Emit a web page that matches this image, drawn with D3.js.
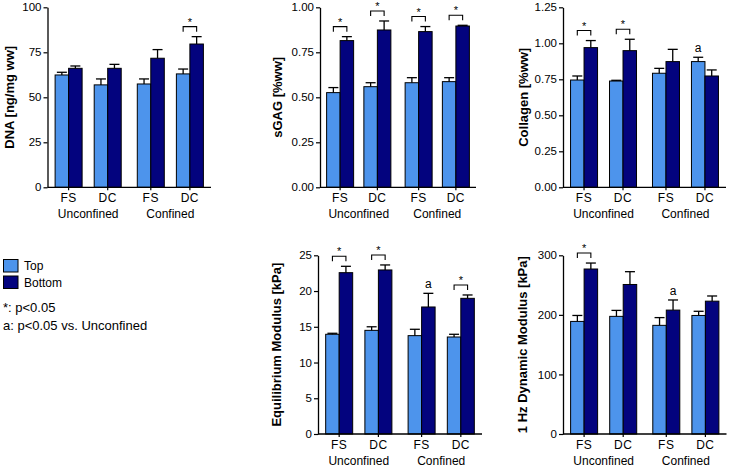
<!DOCTYPE html>
<html><head><meta charset="utf-8">
<script src="https://cdn.jsdelivr.net/npm/d3@7"></script>
<style>body{margin:0;background:#fff}svg{display:block;font-family:Arial,"Liberation Sans",sans-serif}</style>
</head><body><svg id="c" width="735" height="468"></svg>
<script>
// ---------------- data ----------------
const conditions = ["FS", "DC", "FS", "DC"];
const groups = ["Unconfined", "Unconfined", "Confined", "Confined"];
const groupNames = ["Unconfined", "Confined"];
const seriesNames = ["Top", "Bottom"];

const dnaTop = [62.4, 56.9, 57.4, 63.0];
const dnaTopErr = [1.5, 3.3, 2.8, 2.7];
const dnaBottom = [66.1, 66.1, 71.7, 79.6];
const dnaBottomErr = [1.3, 2.2, 4.8, 4.1];
const dnaStar = [false, false, false, true];
const dnaA = [null, null, null, null];
const dnaTicks = [0, 25, 50, 75, 100];

const sgagTop = [0.526, 0.559, 0.581, 0.587];
const sgagTopErr = [0.028, 0.022, 0.028, 0.022];
const sgagBottom = [0.815, 0.874, 0.865, 0.896];
const sgagBottomErr = [0.022, 0.050, 0.028, 0.004];
const sgagStar = [true, true, true, true];
const sgagA = [null, null, null, null];
const sgagTicks = [0, 0.25, 0.5, 0.75, 1.0];

const colTop = [0.745, 0.738, 0.792, 0.873];
const colTopErr = [0.028, 0.005, 0.034, 0.030];
const colBottom = [0.970, 0.949, 0.873, 0.773];
const colBottomErr = [0.049, 0.079, 0.085, 0.042];
const colStar = [true, true, false, false];
const colA = [null, null, null, "Top"];
const colTicks = [0, 0.25, 0.5, 0.75, 1.0, 1.25];

const eqTop = [13.95, 14.5, 13.76, 13.57];
const eqTopErr = [0.14, 0.5, 0.89, 0.38];
const eqBottom = [22.57, 22.95, 17.77, 18.98];
const eqBottomErr = [0.89, 0.7, 1.91, 0.47];
const eqStar = [true, true, false, true];
const eqA = [null, null, "Bottom", null];
const eqTicks = [0, 5, 10, 15, 20, 25];

const dynTop = [189, 197.5, 182.4, 199];
const dynTopErr = [10, 10, 13, 7];
const dynBottom = [277, 251, 208, 223];
const dynBottomErr = [10, 21.5, 17, 8.7];
const dynStar = [true, false, false, false];
const dynA = [null, null, "Bottom", null];
const dynTicks = [0, 100, 200, 300];

const yLabels = ["DNA [ng/mg ww]", "sGAG [%ww]", "Collagen [%ww]", "Equilibrium Modulus [kPa]", "1 Hz Dynamic Modulus [kPa]"];
const footnotes = ["*: p<0.05", "a: p<0.05 vs. Unconfined"];

// ---------------- style / layout ----------------
const colors = {Top: "#4d94ec", Bottom: "#03037e"};
const svg = d3.select("#c");

const panels = [
  {label: yLabels[0], top: dnaTop, topErr: dnaTopErr, bot: dnaBottom, botErr: dnaBottomErr, star: dnaStar, a: dnaA, ticks: dnaTicks, fmt: d3.format("d"),
   x0: 47.5, x1: 211, y0: 187.3, y1: 7.3, labelX: 9},
  {label: yLabels[1], top: sgagTop, topErr: sgagTopErr, bot: sgagBottom, botErr: sgagBottomErr, star: sgagStar, a: sgagA, ticks: sgagTicks, fmt: d3.format(".2f"),
   x0: 320, x1: 476, y0: 187.3, y1: 7.3, labelX: 277.5},
  {label: yLabels[2], top: colTop, topErr: colTopErr, bot: colBottom, botErr: colBottomErr, star: colStar, a: colA, ticks: colTicks, fmt: d3.format(".2f"),
   x0: 563, x1: 726, y0: 187.3, y1: 7.3, labelX: 523.5},
  {label: yLabels[3], top: eqTop, topErr: eqTopErr, bot: eqBottom, botErr: eqBottomErr, star: eqStar, a: eqA, ticks: eqTicks, fmt: d3.format("d"),
   x0: 318, x1: 482, y0: 434, y1: 255.3, labelX: 276},
  {label: yLabels[4], top: dynTop, topErr: dynTopErr, bot: dynBottom, botErr: dynBottomErr, star: dynStar, a: dynA, ticks: dynTicks, fmt: d3.format("d"),
   x0: 563, x1: 726.5, y0: 434, y1: 255.3, labelX: 522}
];

const barW = 13.5, capW = 10, groupGap = 4;

panels.forEach(p => {
  const g = svg.append("g");
  const yMax = p.ticks[p.ticks.length - 1];
  const y = d3.scaleLinear().domain([0, yMax]).range([p.y0, p.y1]);
  const idx = d3.range(conditions.length);
  const xb = d3.scaleBand().domain(idx).range([0, p.x1 - p.x0 - groupGap]).paddingInner(0).paddingOuter(0.04);
  const cx = i => p.x0 + xb(i) + xb.bandwidth() / 2 + (groups[i] === groupNames[1] ? groupGap : 0);
  const sub = d3.scaleBand().domain(seriesNames).range([-barW, barW]);

  const rows = [];
  idx.forEach(i => {
    rows.push({i, s: "Top", v: p.top[i], e: p.topErr[i]});
    rows.push({i, s: "Bottom", v: p.bot[i], e: p.botErr[i]});
  });

  // bars
  g.selectAll("rect.bar").data(rows).join("rect")
    .attr("x", d => cx(d.i) + sub(d.s))
    .attr("y", d => y(d.v))
    .attr("width", sub.bandwidth())
    .attr("height", d => y(0) - y(d.v))
    .attr("fill", d => colors[d.s])
    .attr("stroke", "#000").attr("stroke-width", 1);

  // error bars (upper only)
  const eb = g.selectAll("g.err").data(rows).join("g");
  eb.append("line")
    .attr("x1", d => cx(d.i) + sub(d.s) + sub.bandwidth() / 2)
    .attr("x2", d => cx(d.i) + sub(d.s) + sub.bandwidth() / 2)
    .attr("y1", d => y(d.v)).attr("y2", d => y(d.v + d.e))
    .attr("stroke", "#000").attr("stroke-width", 1.3);
  eb.append("line")
    .attr("x1", d => cx(d.i) + sub(d.s) + sub.bandwidth() / 2 - capW / 2)
    .attr("x2", d => cx(d.i) + sub(d.s) + sub.bandwidth() / 2 + capW / 2)
    .attr("y1", d => y(d.v + d.e)).attr("y2", d => y(d.v + d.e))
    .attr("stroke", "#000").attr("stroke-width", 1.3);

  // y axis
  const ax = g.append("g").attr("transform", `translate(${p.x0},0)`)
    .call(d3.axisLeft(y).tickValues(p.ticks).tickFormat(p.fmt).tickSize(4).tickSizeOuter(0).tickPadding(2));
  ax.select(".domain").attr("stroke", "#000").attr("stroke-width", 1.3);
  ax.selectAll(".tick line").attr("stroke", "#000").attr("stroke-width", 1.2);
  ax.selectAll(".tick text").attr("font-size", 11.5).attr("font-family", "Arial, 'Liberation Sans', sans-serif").attr("fill", "#000");

  // x axis
  g.append("line").attr("x1", p.x0).attr("x2", p.x1).attr("y1", y(0)).attr("y2", y(0))
    .attr("stroke", "#000").attr("stroke-width", 1.3);
  g.selectAll("line.xt").data(idx).join("line")
    .attr("x1", cx).attr("x2", cx).attr("y1", y(0)).attr("y2", y(0) + 3)
    .attr("stroke", "#000").attr("stroke-width", 1.2);
  g.selectAll("text.cond").data(idx).join("text")
    .attr("x", cx).attr("y", y(0) + 15).attr("text-anchor", "middle")
    .attr("font-size", 12).attr("letter-spacing", "0.5px").text(i => conditions[i]);
  groupNames.forEach(gn => {
    const ids = idx.filter(i => groups[i] === gn);
    const mid = d3.mean(ids, cx);
    g.append("text").attr("x", mid).attr("y", y(0) + 31).attr("text-anchor", "middle")
      .attr("font-size", 12).text(gn);
  });

  // y label
  g.append("text")
    .attr("transform", `translate(${p.labelX + 4.8},${(p.y0 + p.y1) / 2}) rotate(-90)`)
    .attr("text-anchor", "middle").attr("font-size", 13).attr("font-weight", "bold").text(p.label);

  // significance brackets
  idx.filter(i => p.star[i]).forEach(i => {
    const xa = cx(i) + sub("Top") + sub.bandwidth() / 2;
    const xbB = cx(i) + sub("Bottom") + sub.bandwidth() / 2;
    const yt = Math.min(y(p.top[i] + p.topErr[i]), y(p.bot[i] + p.botErr[i])) - 10;
    g.append("path").attr("d", `M${xa},${yt + 5}V${yt}H${xbB}V${yt + 5}`)
      .attr("fill", "none").attr("stroke", "#000").attr("stroke-width", 1.1);
    g.append("text").attr("x", (xa + xbB) / 2).attr("y", yt - 1).attr("text-anchor", "middle")
      .attr("font-size", 11).text("*");
  });

  // "a" markers
  idx.filter(i => p.a[i]).forEach(i => {
    const s = p.a[i];
    const v = s === "Top" ? p.top[i] + p.topErr[i] : p.bot[i] + p.botErr[i];
    g.append("text").attr("x", cx(i) + sub(s) + sub.bandwidth() / 2).attr("y", y(v) - 5)
      .attr("text-anchor", "middle").attr("font-size", 12).text("a");
  });
});

// legend
const lg = svg.append("g");
seriesNames.forEach((s, k) => {
  lg.append("rect").attr("x", 3.5).attr("y", 259.5 + k * 16.5).attr("width", 14.5).attr("height", 12.5)
    .attr("fill", colors[s]).attr("stroke", "#000").attr("stroke-width", 1);
  lg.append("text").attr("x", 24).attr("y", 270 + k * 16.5).attr("font-size", 12).text(s);
});
footnotes.forEach((t, k) => {
  lg.append("text").attr("x", 3).attr("y", 311.5 + k * 18).attr("font-size", 13).text(t);
});
</script></body></html>
